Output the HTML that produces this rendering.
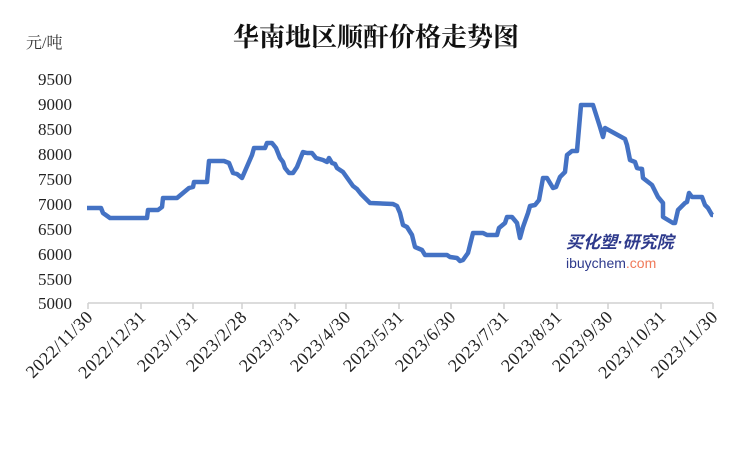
<!DOCTYPE html>
<html><head><meta charset="utf-8"><style>
body{margin:0;background:#fff;}
svg text{font-family:"Liberation Serif","Noto Serif CJK SC",serif;}
</style></head><body>
<svg width="749" height="450" xmlns="http://www.w3.org/2000/svg">
<rect width="749" height="450" fill="#fff"/>
<text x="376" y="46" text-anchor="middle" font-size="26" font-weight="bold" fill="#111">华南地区顺酐价格走势图</text>
<text x="26" y="48" font-size="16" fill="#333">元/吨</text>
<g font-size="17" fill="#222" text-anchor="end">
<text x="72" y="85">9500</text><text x="72" y="110">9000</text><text x="72" y="135">8500</text>
<text x="72" y="160">8000</text><text x="72" y="185">7500</text><text x="72" y="210">7000</text>
<text x="72" y="235">6500</text><text x="72" y="260">6000</text><text x="72" y="285">5500</text>
<text x="72" y="309">5000</text>
</g>
<g stroke="#d0d0d0" stroke-width="1.5">
<line x1="88" y1="303" x2="713" y2="303"/>
<line x1="88" y1="303" x2="88" y2="309"/><line x1="141" y1="303" x2="141" y2="309"/><line x1="193" y1="303" x2="193" y2="309"/><line x1="242" y1="303" x2="242" y2="309"/><line x1="295" y1="303" x2="295" y2="309"/><line x1="346" y1="303" x2="346" y2="309"/><line x1="399" y1="303" x2="399" y2="309"/><line x1="451" y1="303" x2="451" y2="309"/><line x1="504" y1="303" x2="504" y2="309"/><line x1="557" y1="303" x2="557" y2="309"/><line x1="608" y1="303" x2="608" y2="309"/><line x1="661" y1="303" x2="661" y2="309"/><line x1="713" y1="303" x2="713" y2="309"/>
</g>
<g font-size="18" fill="#222" text-anchor="end" letter-spacing="0.5">
<text transform="translate(94,318) rotate(-45)">2022/11/30</text>
<text transform="translate(147,318) rotate(-45)">2022/12/31</text>
<text transform="translate(199,318) rotate(-45)">2023/1/31</text>
<text transform="translate(248,318) rotate(-45)">2023/2/28</text>
<text transform="translate(301,318) rotate(-45)">2023/3/31</text>
<text transform="translate(352,318) rotate(-45)">2023/4/30</text>
<text transform="translate(405,318) rotate(-45)">2023/5/31</text>
<text transform="translate(457,318) rotate(-45)">2023/6/30</text>
<text transform="translate(510,318) rotate(-45)">2023/7/31</text>
<text transform="translate(563,318) rotate(-45)">2023/8/31</text>
<text transform="translate(614,318) rotate(-45)">2023/9/30</text>
<text transform="translate(667,318) rotate(-45)">2023/10/31</text>
<text transform="translate(719,318) rotate(-45)">2023/11/30</text>
</g>
<text x="566" y="248" font-size="17" font-weight="bold" font-style="italic" fill="#2e3a8c" style="font-family:'Liberation Sans','Noto Sans CJK SC',sans-serif">买化塑·研究院</text>
<text x="566" y="268" font-size="14" fill="#2e3a8c" style="font-family:'Liberation Sans',sans-serif">ibuychem<tspan fill="#f07a5a">.com</tspan></text>
<polyline fill="none" stroke="#4472c4" stroke-width="4.5" stroke-linejoin="round" points="87,208 101,208 103,213 110,218 147,218 148,210 158,210 162,207 163,198 177,198 189,188 193,187 194,182 207,182 209,161 224,161 229,163 233,173 237,174 242,178 252,155 254,148 265,148 267,143 272,143 276,148 280,158 283,162 285,168 289,173 293,173 297,167 303,152 307,153 312,153 316,158 323,160 327,162 329,158 332,163 335,164 337,168 343,172 353,186 357,189 361,194 364,197 370,203 393,204 397,206 400,213 403,225 407,227 412,235 415,247 422,250 425,255 447,255 450,257 457,258 460,261 463,260 468,253 473,233 483,233 487,235 497,235 499,228 505,223 507,217 512,217 517,223 520,238 523,227 528,213 530,206 535,205 539,200 543,178 547,178 553,188 556,187 560,177 565,172 567,155 572,151 577,151 581,105 593,105 600,127 603,137 605,128 625,139 627,145 630,160 635,162 637,168 642,169 643,178 652,185 658,197 663,203 663,217 668,220 673,223 675,223 678,210 685,203 687,202 689,193 692,197 702,197 705,205 708,208 712,215 713,215"/>
</svg>
</body></html>
